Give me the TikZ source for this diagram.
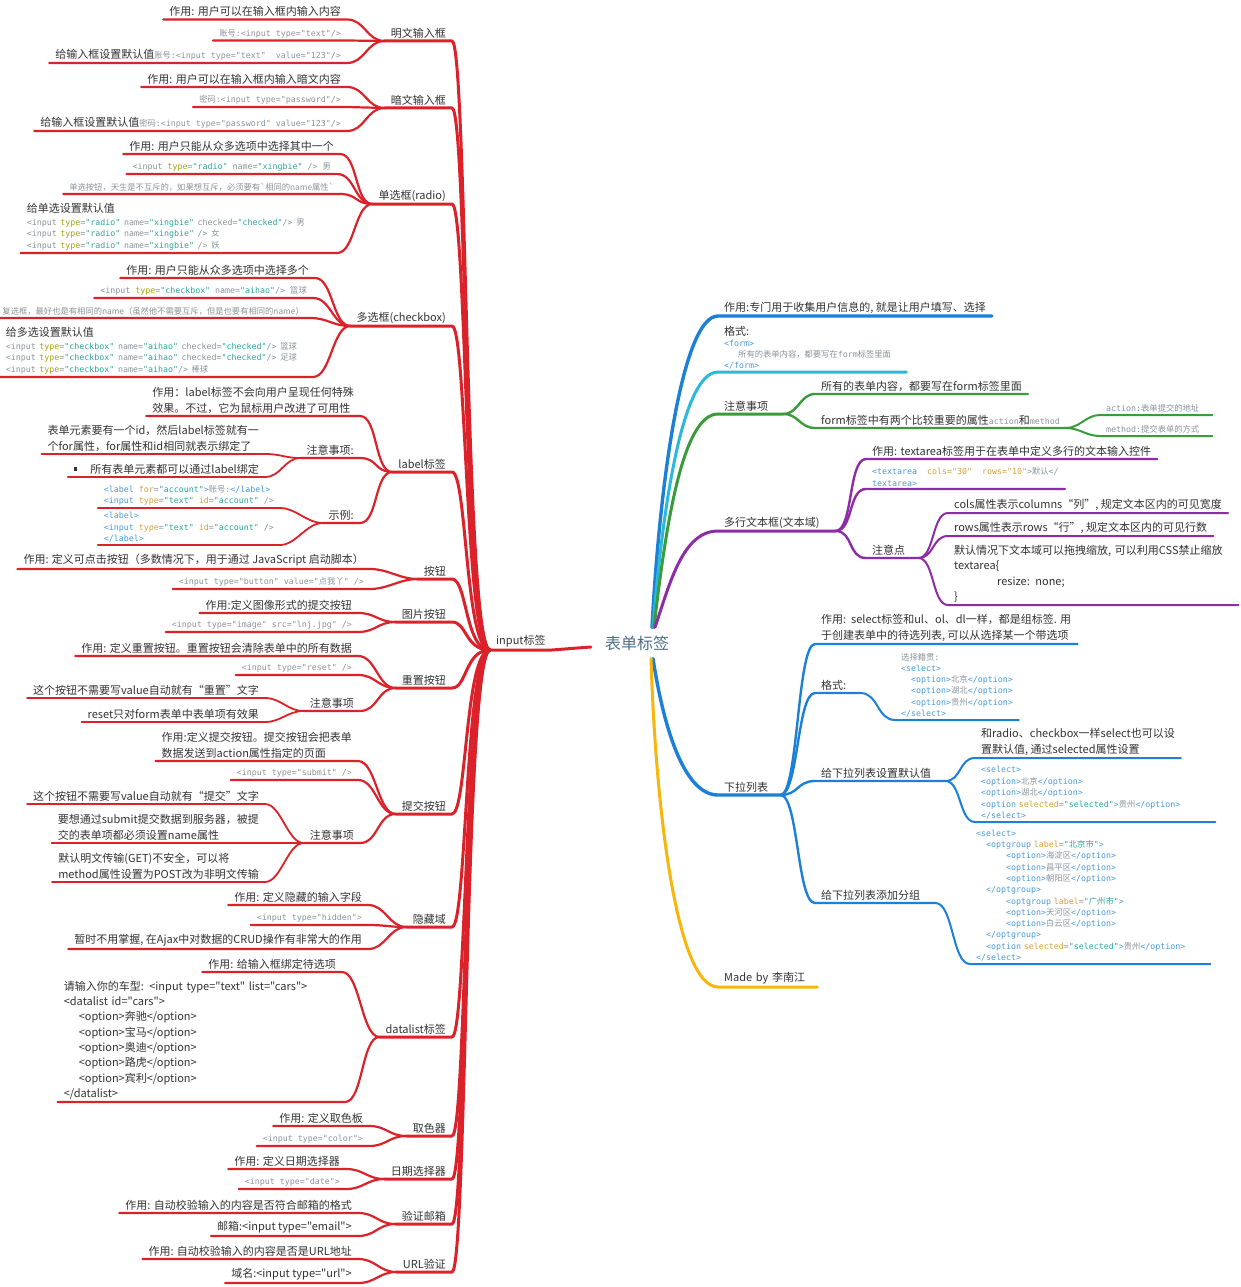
\documentclass[tikz,border=0pt]{standalone}
\usepackage{fontspec}
\newfontfamily\cjk{Noto Sans CJK SC}
\newfontfamily\mono{DejaVu Sans Mono}
\definecolor{ink}{HTML}{333333}
\definecolor{cgray}{HTML}{8A949B}
\definecolor{ctag}{HTML}{4A9BDC}
\definecolor{catt}{HTML}{D4A23A}
\definecolor{caty}{HTML}{A6A310}
\definecolor{cval}{HTML}{2EA69E}
\definecolor{rootc}{HTML}{4E7087}
\definecolor{cred}{HTML}{DB222A}
\definecolor{cblue}{HTML}{1C80D8}
\definecolor{ccyan}{HTML}{2BB9D8}
\definecolor{cgreen}{HTML}{3A9B3A}
\definecolor{cpurp}{HTML}{8E2CA8}
\definecolor{corng}{HTML}{F8B50C}
\lineskiplimit=-30pt
\newcommand\nolsk{\lineskiplimit=-30pt\relax}
\newcommand\zh[1]{{\cjk #1}}
\newcommand\cTag[1]{\textcolor{ctag}{#1}}
\newcommand\cAtt[1]{\textcolor{catt}{#1}}
\newcommand\cAty[1]{\textcolor{caty}{#1}}
\newcommand\cVal[1]{\textcolor{cval}{#1}}
\newcommand\monoinl[1]{{\mono\fontsize{8.3}{11}\selectfont\color{cgray}#1}}
\newcommand\tconn[2]{\draw[#1] (in.south west) .. controls +(-25,0) and +(15,0) .. (#2.south east) -- (#2.south west);}
\newcommand\lconn[4]{\draw[#1] (#2.south west) .. controls +(-#4,0) and +(#4,0) .. (#3.south east) -- (#3.south west);}
\newcommand\rconn[4]{\draw[#1] (#2.south east) .. controls +(#4,0) and +(-#4,0) .. (#3.south west) -- (#3.south east);}
\begin{document}
\begin{tikzpicture}[x=1pt,y=-1pt,
  tx/.style={font=\nolsk\cjk\fontsize{11}{15.8}\selectfont, text=ink, inner xsep=6pt, inner ysep=2.5pt, align=left},
  cd/.style={font=\nolsk\mono\fontsize{8.3}{11.5}\selectfont, text=cgray, inner xsep=6pt, inner ysep=2.5pt, align=left},
  sm/.style={font=\cjk\fontsize{8.3}{11}\selectfont, text=cgray, inner xsep=6pt, inner ysep=2.5pt},
  lft/.style={anchor=south east}, rgt/.style={anchor=south west},
  ln/.style={line cap=round, line join=round},
  r1/.style={ln, draw=cred, line width=3pt},
  r2/.style={ln, draw=cred, line width=2.2pt},
  r3/.style={ln, draw=cred, line width=1.8pt},
  b1/.style={ln, draw=cblue, line width=3.4pt},
  b2/.style={ln, draw=cblue, line width=2.4pt},
  b3/.style={ln, draw=cblue, line width=2pt},
  cy1/.style={ln, draw=ccyan, line width=3pt},
  g1/.style={ln, draw=cgreen, line width=3pt},
  g2/.style={ln, draw=cgreen, line width=2.4pt},
  g3/.style={ln, draw=cgreen, line width=2pt},
  p1/.style={ln, draw=cpurp, line width=3pt},
  p2/.style={ln, draw=cpurp, line width=2.4pt},
  p3/.style={ln, draw=cpurp, line width=2pt},
  o1/.style={ln, draw=corng, line width=3pt}]
\fill[white] (0,0) rectangle (1240,1287);
\useasboundingbox (0,0) rectangle (1240,1287);

% ---------- root and input ----------
\node[font=\cjk\fontsize{16}{18}\selectfont, text=rootc, inner xsep=14pt, inner ysep=8pt] (root) at (637,643) {表单标签};
\node[tx,rgt] (in) at (490,650) {input标签};

% ---------- second level (left) ----------
\node[tx,lft] (mw) at (452,41) {明文输入框};
\node[tx,lft] (aw) at (452,108) {暗文输入框};
\node[tx,lft] (rd) at (452,204) {单选框(radio)};
\node[tx,lft] (cb) at (452,326) {多选框(checkbox)};
\node[tx,lft] (lb) at (452,472) {label标签};
\node[tx,lft] (bt) at (452,579) {按钮};
\node[tx,lft] (ib) at (452,622) {图片按钮};
\node[tx,lft] (rs) at (452,688) {重置按钮};
\node[tx,lft] (sb) at (452,814) {提交按钮};
\node[tx,lft] (hd) at (452,927) {隐藏域};
\node[tx,lft] (dl) at (452,1037) {datalist标签};
\node[tx,lft] (cl) at (452,1136) {取色器};
\node[tx,lft] (dt) at (452,1179) {日期选择器};
\node[tx,lft] (em) at (452,1224) {验证邮箱};
\node[tx,lft] (ur) at (452,1272) {URL验证};

% ---------- third level (left) ----------
\node[tx,lft] (mw1) at (347,19.5) {作用: 用户可以在输入框内输入内容};
\node[cd,lft] (mw2) at (347,40.5) {\zh{账号}:<input type="text"/>};
\node[tx,lft] (mw3) at (347,63) {给输入框设置默认值\monoinl{\zh{账号}:<input type="text"\ \ value="123"/>}};

\node[tx,lft] (aw1) at (347,87) {作用: 用户可以在输入框内输入暗文内容};
\node[cd,lft] (aw2) at (347,107) {\zh{密码}:<input type="password"/>};
\node[tx,lft] (aw3) at (347,131) {给输入框设置默认值\monoinl{\zh{密码}:<input type="password" value="123"/>}};

\node[tx,lft] (rd1) at (340,154) {作用: 用户只能从众多选项中选择其中一个};
\node[cd,lft] (rd2) at (337,174) {<input \cAty{type}=\cVal{"radio"} name=\cVal{"xingbie"} /> \zh{男}};
\node[sm,lft] (rd3) at (340,194) {单选按钮，天生是不互斥的，如果想互斥，必须要有\textasciigrave 相同的name属性\textasciigrave};
\node[tx,lft,text width=304pt] (rd4) at (337,253) {给单选设置默认值\par\vspace{1.3pt}\mono\fontsize{8.3}{11.7}\selectfont\color{cgray}<input \cAty{type}=\cVal{"radio"} name=\cVal{"xingbie"} checked=\cVal{"checked"}/> \zh{男}\\<input \cAty{type}=\cVal{"radio"} name=\cVal{"xingbie"} /> \zh{女}\\<input \cAty{type}=\cVal{"radio"} name=\cVal{"xingbie"} /> \zh{妖}\par};

\node[tx,lft] (cb1) at (315,278) {作用: 用户只能从众多选项中选择多个};
\node[cd,lft] (cb2) at (313,298) {<input \cAty{type}=\cVal{"checkbox"} name=\cVal{"aihao"}/> \zh{篮球}};
\node[sm,lft] (cb3) at (310,318) {复选框，最好也是有相同的name（虽然他不需要互斥，但是也要有相同的name）};
\node[tx,lft,text width=301pt] (cb4) at (313,377) {给多选设置默认值\par\vspace{1.3pt}\mono\fontsize{8.3}{11.7}\selectfont\color{cgray}<input \cAty{type}=\cVal{"checkbox"} name=\cVal{"aihao"} checked=\cVal{"checked"}/> \zh{篮球}\\<input \cAty{type}=\cVal{"checkbox"} name=\cVal{"aihao"} checked=\cVal{"checked"}/> \zh{足球}\\<input \cAty{type}=\cVal{"checkbox"} name=\cVal{"aihao"}/> \zh{棒球}\par};

\node[tx,lft] (lb1) at (360,416) {作用：label标签不会向用户呈现任何特殊\\效果。不过，它为鼠标用户改进了可用性};
\node[tx,lft] (lbn) at (360,458) {注意事项:};
\node[tx,lft] (lbn1) at (265,454) {表单元素要有一个id，然后label标签就有一\\个for属性，for属性和id相同就表示绑定了};
\node[tx,lft] (lbn2) at (265,477) {\raisebox{2.5pt}{\rule{3.5pt}{3.5pt}}\hspace{13pt}所有表单元素都可以通过label绑定};
\node[tx,lft] (lbe) at (360,523) {示例:};
\node[cd,lft] (lbe1) at (280,508) {\cTag{<label} \cAtt{for}=\cVal{"account"}\cTag{>}\zh{账号}:\cTag{</label>}\\\cTag{<input} \cAtt{type}=\cVal{"text"} \cAtt{id}=\cVal{"account"} />};
\node[cd,lft] (lbe2) at (280,545) {\cTag{<label>}\\\cTag{<input} \cAtt{type}=\cVal{"text"} \cAtt{id}=\cVal{"account"} />\\\cTag{</label>}};

\node[tx,lft] (bt1) at (370,569) {作用: 定义可点击按钮（多数情况下，用于通过 JavaScript 启动脚本）};
\node[cd,lft] (bt2) at (370,589) {<input type="button" value="\zh{点我丫}" />};

\node[tx,lft] (ib1) at (358,613) {作用:定义图像形式的提交按钮};
\node[cd,lft] (ib2) at (358,632) {<input type="image" src="lnj.jpg" />};

\node[tx,lft] (rs1) at (358,656) {作用: 定义重置按钮。重置按钮会清除表单中的所有数据};
\node[cd,lft] (rs2) at (358,675) {<input type="reset" />};
\node[tx,lft] (rsn) at (360,711) {注意事项};
\node[tx,lft] (rsn1) at (265,698) {这个按钮不需要写value自动就有“重置”文字};
\node[tx,lft] (rsn2) at (265,722) {reset只对form表单中表单项有效果};

\node[tx,lft] (sb1) at (358,761) {作用:定义提交按钮。提交按钮会把表单\\数据发送到action属性指定的页面};
\node[cd,lft] (sb2) at (358,780) {<input type="submit" />};
\node[tx,lft] (sbn) at (360,843) {注意事项};
\node[tx,lft] (sbn1) at (265,804) {这个按钮不需要写value自动就有“提交”文字};
\node[tx,lft] (sbn2) at (265,843) {要想通过submit提交数据到服务器，被提\\交的表单项都必须设置name属性};
\node[tx,lft] (sbn3) at (265,882) {默认明文传输(GET)不安全，可以将\\method属性设置为POST改为非明文传输};

\node[tx,lft] (hd1) at (368,905) {作用: 定义隐藏的输入字段};
\node[cd,lft] (hd2) at (368,925) {<input type="hidden">};
\node[tx,lft] (hd3) at (368,949) {暂时不用掌握, 在Ajax中对数据的CRUD操作有非常大的作用};

\node[tx,lft] (dl1) at (342,972) {作用: 给输入框绑定待选项};
\node[tx,lft,text width=275pt,font=\nolsk\cjk\fontsize{11}{15.3}\selectfont] (dl2) at (345,1102) {请输入你的车型: <input type="text" list="cars">\\<datalist id="cars">\\\hspace*{15pt}<option>奔驰</option>\\\hspace*{15pt}<option>宝马</option>\\\hspace*{15pt}<option>奥迪</option>\\\hspace*{15pt}<option>路虎</option>\\\hspace*{15pt}<option>宾利</option>\\</datalist>};

\node[tx,lft] (cl1) at (369,1126) {作用: 定义取色板};
\node[cd,lft] (cl2) at (369,1146) {<input type="color">};
\node[tx,lft] (dt1) at (346,1169) {作用: 定义日期选择器};
\node[cd,lft] (dt2) at (346,1189) {<input type="date">};
\node[tx,lft] (em1) at (358,1213) {作用: 自动校验输入的内容是否符合邮箱的格式};
\node[tx,lft] (em2) at (358,1236) {邮箱:<input type="email">};
\node[tx,lft] (ur1) at (358,1259) {作用: 自动校验输入的内容是否是URL地址};
\node[tx,lft] (ur2) at (358,1283) {域名:<input type="url">};

% ---------- right side ----------
\node[tx,rgt] (f1) at (718,316) {作用:专门用于收集用户信息的, 就是让用户填写、选择};
\node[tx,rgt,text width=176pt] (f2) at (718,372) {格式:\par\mono\fontsize{8.3}{11}\selectfont\color{cgray}\cTag{<form>}\\\hspace*{14pt}\zh{所有的表单内容，都要写在}form\zh{标签里面}\\\cTag{</form>}\par};
\node[tx,rgt,text width=53pt] (f3) at (718,414) {注意事项};
\node[tx,rgt] (f31) at (815,394) {所有的表单内容，都要写在form标签里面};
\node[tx,rgt] (f32) at (815,428) {form标签中有两个比较重要的属性\monoinl{action}和\monoinl{method}};
\node[cd,rgt,text width=100pt] (f321) at (1100,415) {action:\zh{表单提交的地址}};
\node[cd,rgt,text width=100pt] (f322) at (1100,436) {method:\zh{提交表单的方式}};

\node[tx,rgt,text width=105pt] (f4) at (718,531) {多行文本框(文本域)};
\node[tx,rgt] (f41) at (866,459) {作用: textarea标签用于在表单中定义多行的文本输入控件};
\node[cd,rgt] (f42) at (866,489) {\cTag{<textarea}\ \ \cAtt{cols="30"}\ \ \cAtt{rows="10"}>\zh{默认}</\\\cTag{textarea>}};
\node[tx,rgt,text width=40pt] (f43) at (866,558) {注意点};
\node[tx,rgt] (f431) at (948,513) {cols属性表示columns“列”, 规定文本区内的可见宽度};
\node[tx,rgt] (f432) at (948,536) {rows属性表示rows“行”, 规定文本区内的可见行数};
\node[tx,rgt,text width=278pt,font=\nolsk\cjk\fontsize{11}{15.3}\selectfont] (f433) at (948,605) {默认情况下文本域可以拖拽缩放, 可以利用CSS禁止缩放\\textarea\{\\\hspace*{43pt}resize: none;\\\}};

\node[tx,rgt,text width=50pt] (f5) at (718,795) {下拉列表};
\node[tx,rgt] (f51) at (815,644) {作用:\ \ select标签和ul、ol、dl一样，都是组标签. 用\\于创建表单中的待选列表, 可以从选择某一个带选项};
\node[tx,rgt,text width=33pt] (f52) at (815,693) {格式:};
\node[cd,rgt,font=\nolsk\mono\fontsize{8.3}{11.3}\selectfont] (f521) at (895,720) {\zh{选择籍贯}:\\\cTag{<select>}\\\hspace*{10pt}\cTag{<option>}\zh{北京}\cTag{</option>}\\\hspace*{10pt}\cTag{<option>}\zh{湖北}\cTag{</option>}\\\hspace*{10pt}\cTag{<option>}\zh{贵州}\cTag{</option>}\\\cTag{</select>}};
\node[tx,rgt,text width=118pt] (f53) at (815,781) {给下拉列表设置默认值};
\node[tx,rgt] (f531) at (975,758) {和radio、checkbox一样select也可以设\\置默认值, 通过selected属性设置};
\node[cd,rgt,text width=228pt] (f532) at (975,822) {\cTag{<select>}\\\cTag{<option>}\zh{北京}\cTag{</option>}\\\cTag{<option>}\zh{湖北}\cTag{</option>}\\\cTag{<option} \cAtt{selected}=\cVal{"selected"}\cTag{>}\zh{贵州}\cTag{</option>}\\\cTag{</select>}};
\node[tx,rgt,text width=108pt] (f54) at (815,903) {给下拉列表添加分组};
\node[cd,rgt,text width=228pt,font=\nolsk\mono\fontsize{8.3}{11.3}\selectfont] (f541) at (970,964) {\cTag{<select>}\\\hspace*{10pt}\cTag{<optgroup} \cAtt{label}=\cVal{"\zh{北京市}"}\cTag{>}\\\hspace*{30pt}\cTag{<option>}\zh{海淀区}\cTag{</option>}\\\hspace*{30pt}\cTag{<option>}\zh{昌平区}\cTag{</option>}\\\hspace*{30pt}\cTag{<option>}\zh{朝阳区}\cTag{</option>}\\\hspace*{10pt}\cTag{</optgroup>}\\\hspace*{30pt}\cTag{<optgroup} \cAtt{label}=\cVal{"\zh{广州市}"}\cTag{>}\\\hspace*{30pt}\cTag{<option>}\zh{天河区}\cTag{</option>}\\\hspace*{30pt}\cTag{<option>}\zh{白云区}\cTag{</option>}\\\hspace*{10pt}\cTag{</optgroup>}\\\hspace*{10pt}\cTag{<option} \cAtt{selected}=\cVal{"selected"}\cTag{>}\zh{贵州}\cTag{</option>}\\\cTag{</select>}};

\node[tx,rgt,text width=87pt] (f6) at (718,987) {Made by 李南江};

% ---------- connectors: root ----------
\draw[r1] (in.south west) -- (in.south east) -- ([yshift=-4pt]root.west);
\draw[b1] ([xshift=15pt]root.north) .. controls +(8,-150) and +(-35,0) .. (f1.south west) -- (f1.south east);
\draw[cy1] ([xshift=16pt]root.north) .. controls +(10,-125) and +(-35,0) .. (f2.south west) -- (f2.south east);
\draw[g1] ([xshift=17pt]root.north) .. controls +(12,-105) and +(-35,0) .. (f3.south west) -- (f3.south east);
\draw[p1] ([xshift=18pt]root.north) .. controls +(15,-45) and +(-35,0) .. (f4.south west) -- (f4.south east);
\draw[b1] ([xshift=16pt]root.south) .. controls +(10,65) and +(-35,0) .. (f5.south west) -- (f5.south east);
\draw[o1] ([xshift=14pt]root.south) .. controls +(5,160) and +(-40,0) .. (f6.south west) -- (f6.south east);

% ---------- connectors: input trunk ----------
\tconn{r1}{mw} \tconn{r1}{aw} \tconn{r1}{rd} \tconn{r1}{cb} \tconn{r1}{lb}
\tconn{r1}{bt} \tconn{r1}{ib} \tconn{r1}{rs} \tconn{r1}{sb} \tconn{r1}{hd}
\tconn{r1}{dl} \tconn{r1}{cl} \tconn{r1}{dt} \tconn{r1}{em} \tconn{r1}{ur}

% ---------- connectors: left third level ----------
\lconn{r2}{mw}{mw1}{18} \lconn{r2}{mw}{mw2}{18} \lconn{r2}{mw}{mw3}{18}
\lconn{r2}{aw}{aw1}{18} \lconn{r2}{aw}{aw2}{18} \lconn{r2}{aw}{aw3}{18}
\lconn{r2}{rd}{rd1}{18} \lconn{r2}{rd}{rd2}{18} \lconn{r2}{rd}{rd3}{18} \lconn{r2}{rd}{rd4}{18}
\lconn{r2}{cb}{cb1}{18} \lconn{r2}{cb}{cb2}{18} \lconn{r2}{cb}{cb3}{18} \lconn{r2}{cb}{cb4}{18}
\lconn{r2}{lb}{lb1}{18} \lconn{r2}{lb}{lbn}{18} \lconn{r2}{lb}{lbe}{18}
\lconn{r3}{lbn}{lbn1}{16} \lconn{r3}{lbn}{lbn2}{16}
\lconn{r3}{lbe}{lbe1}{16} \lconn{r3}{lbe}{lbe2}{16}
\lconn{r2}{bt}{bt1}{18} \lconn{r2}{bt}{bt2}{18}
\lconn{r2}{ib}{ib1}{18} \lconn{r2}{ib}{ib2}{18}
\lconn{r2}{rs}{rs1}{18} \lconn{r2}{rs}{rs2}{18} \lconn{r2}{rs}{rsn}{18}
\lconn{r3}{rsn}{rsn1}{16} \lconn{r3}{rsn}{rsn2}{16}
\lconn{r2}{sb}{sb1}{18} \lconn{r2}{sb}{sb2}{18} \lconn{r2}{sb}{sbn}{18}
\lconn{r3}{sbn}{sbn1}{16} \lconn{r3}{sbn}{sbn2}{16} \lconn{r3}{sbn}{sbn3}{16}
\lconn{r2}{hd}{hd1}{18} \lconn{r2}{hd}{hd2}{18} \lconn{r2}{hd}{hd3}{18}
\lconn{r2}{dl}{dl1}{18} \lconn{r2}{dl}{dl2}{18}
\lconn{r2}{cl}{cl1}{18} \lconn{r2}{cl}{cl2}{18}
\lconn{r2}{dt}{dt1}{18} \lconn{r2}{dt}{dt2}{18}
\lconn{r2}{em}{em1}{18} \lconn{r2}{em}{em2}{18}
\lconn{r2}{ur}{ur1}{18} \lconn{r2}{ur}{ur2}{18}

% ---------- connectors: right ----------
\rconn{g2}{f3}{f31}{15} \rconn{g2}{f3}{f32}{15}
\rconn{g3}{f32}{f321}{14} \rconn{g3}{f32}{f322}{14}
\rconn{p2}{f4}{f41}{18} \rconn{p2}{f4}{f42}{18} \rconn{p2}{f4}{f43}{18}
\rconn{p3}{f43}{f431}{16} \rconn{p3}{f43}{f432}{16} \rconn{p3}{f43}{f433}{16}
\rconn{b2}{f5}{f51}{18} \rconn{b2}{f5}{f52}{18} \rconn{b2}{f5}{f53}{18} \rconn{b2}{f5}{f54}{18}
\rconn{b3}{f52}{f521}{18}
\rconn{b3}{f53}{f531}{16} \rconn{b3}{f53}{f532}{16}
\rconn{b3}{f54}{f541}{18}
\end{tikzpicture}
\end{document}
